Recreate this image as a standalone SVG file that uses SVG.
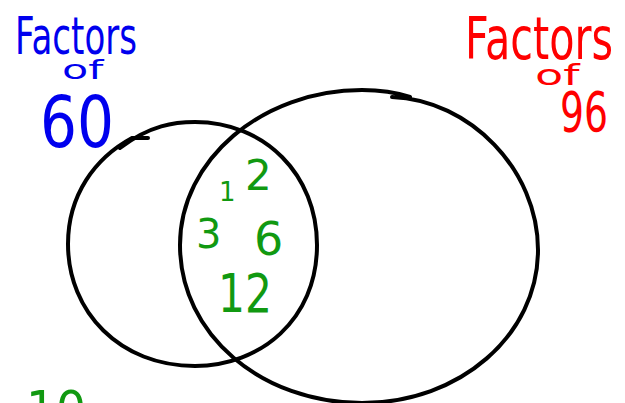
<svg xmlns="http://www.w3.org/2000/svg" width="625" height="403" viewBox="0 0 625 403">
<style>
.c{fill:none;stroke:#000;stroke-width:4;stroke-linecap:round}
text{font-family:"DejaVu Sans",sans-serif}
.b{fill:#0000ee}
.r{fill:#ff0000}
.g{fill:#119911}
</style>
<rect width="625" height="403" fill="#fff"/>
<g id="set60">
<path class="c" d="M120,148 C150,125 175,122 195,122 C265,122 317,175 317,245 C317,320 260,366 195,366 C120,366 68,312 68,244 C68,195 95,158 132,138 L148,138"/>
</g>
<g id="set96">
<path class="c" d="M392,97 C470,100 538,170 538,250 C538,335 460,403 362,403 C262,403 180,335 180,245 C180,160 262,90 362,90 C380,90 395,92 410,97"/>
</g>
<g id="labels">
<text class="b" transform="translate(15,54) scale(1,1.5)" font-size="34" textLength="122" lengthAdjust="spacingAndGlyphs">Factors</text>
<text class="b" transform="translate(62,79) scale(1.65,1)" font-size="26">of</text>
<text class="b" x="40" y="147" font-size="72" textLength="74" lengthAdjust="spacingAndGlyphs">60</text>
<text class="r" transform="translate(465,59) scale(1,1.45)" font-size="40" textLength="148" lengthAdjust="spacingAndGlyphs">Factors</text>
<text class="r" transform="translate(535,85) scale(1.65,1)" font-size="28">of</text>
<text class="r" x="560" y="131" font-size="56" textLength="48" lengthAdjust="spacingAndGlyphs">96</text>
</g>
<g id="common">
<text class="g" x="219" y="201" font-size="26">1</text>
<text class="g" x="245" y="190" font-size="42">2</text>
<text class="g" x="196" y="248" font-size="40">3</text>
<text class="g" x="254" y="255" font-size="46">6</text>
<text class="g" x="218" y="312" font-size="54" textLength="54" lengthAdjust="spacingAndGlyphs">12</text>
<text class="g" x="26" y="426" font-size="50" textLength="60" lengthAdjust="spacingAndGlyphs">10</text>
</g>
</svg>
